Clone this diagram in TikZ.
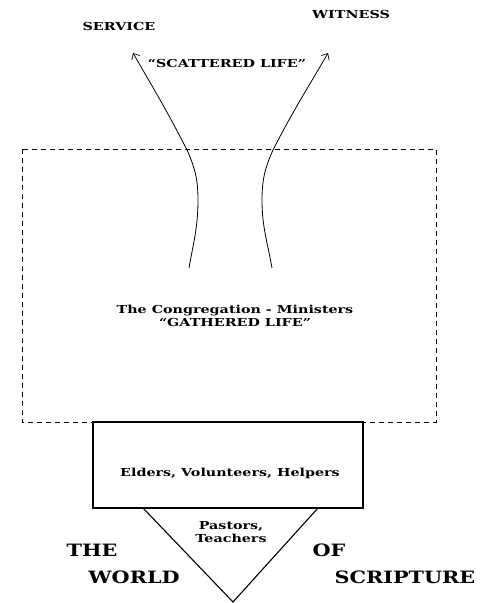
\documentclass[tikz,border=0pt]{standalone}
\usepackage{fontspec}
\setmainfont{DejaVu Serif}
\newfontfamily\widefont[FakeStretch=1.3,Ligatures=TeX]{DejaVu Serif}
\newfontfamily\bigfont[FakeStretch=1.22,Ligatures=TeX]{DejaVu Serif}
\usetikzlibrary{arrows.meta}
\tikzset{
  lbl/.style={font=\widefont\bfseries\fontsize{11}{12.5}\selectfont, inner sep=0pt, align=center},
  big/.style={font=\bigfont\bfseries\fontsize{17}{18}\selectfont, inner sep=0pt},
  flow/.style={line width=0.8pt, -{Straight Barb[length=5pt,width=9pt,line width=0.7pt]}},
  dashbox/.style={draw, line width=0.9pt, dash pattern=on 5pt off 4pt},
  solidbox/.style={draw, line width=1.1pt}
}
\begin{document}
\begin{tikzpicture}[x=1pt,y=-1pt]
\useasboundingbox (0,0) rectangle (483,603);
% boxes
\draw[dashbox] (22,149) rectangle (436,422);
\draw[solidbox] (93,422) rectangle (363,508);
\draw[solidbox] (143,508) -- (233,602) -- (318,508);
% curve anchors
\coordinate (lb) at (189,268);
\coordinate (lm) at (198,200);
\coordinate (la) at (187,150);
\coordinate (lt) at (133,53);
\coordinate (rb) at (272,268);
\coordinate (rm) at (262,200);
\coordinate (ra) at (273,150);
\coordinate (rt) at (328,53);
\draw[flow] (lb) to[out=80,in=-90] (lm) to[out=90,in=-66] (la) to[out=117,in=-60] (lt);
\draw[flow] (rb) to[out=100,in=-90] (rm) to[out=90,in=-114] (ra) to[out=63,in=-120] (rt);
% texts
\node[lbl] (service) at (119,26) {SERVICE};
\node[lbl] (witness) at (351,14) {WITNESS};
\node[lbl] (scat) at (227,63) {“SCATTERED LIFE”};
\node[lbl] (cong) at (235,316) {The Congregation - Ministers\\“GATHERED LIFE”};
\node[lbl] (elders) at (230,473) {Elders, Volunteers, Helpers};
\node[lbl] (pastors) at (231,532) {Pastors,\\Teachers};
\node[big] (the) at (92,550) {THE};
\node[big] (world) at (134,577) {WORLD};
\node[big] (of) at (329,550) {OF};
\node[big] (scripture) at (405,577) {SCRIPTURE};
\end{tikzpicture}
\end{document}
